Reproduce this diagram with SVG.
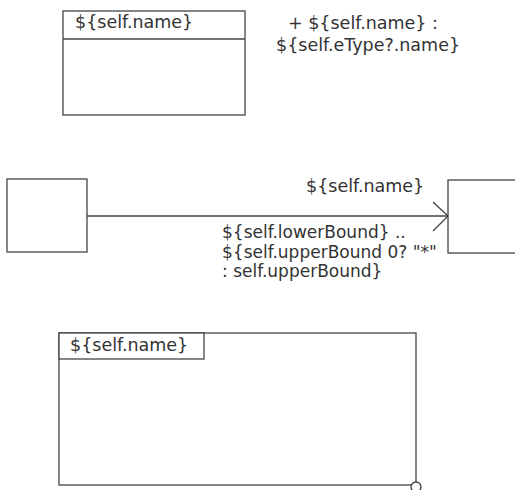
<svg xmlns="http://www.w3.org/2000/svg" width="515" height="490" viewBox="0 0 515 490">
<style>
.box{fill:#fff;stroke:#444;stroke-width:1.3}
.ln{fill:none;stroke:#444;stroke-width:1.3}
text{font-family:"DejaVu Sans","Liberation Sans",sans-serif;font-size:17.5px;fill:#333}
.ml{font-size:17px}
</style>
<rect width="515" height="490" fill="#fff"/>
<g id="class-node">
<rect class="box" x="63" y="11" width="182" height="104"/>
<line class="ln" x1="63" y1="39" x2="245" y2="39"/>
<text x="75" y="28">${self.name}</text>
</g>
<g id="attribute-node">
<text x="288" y="29">+ ${self.name} :</text>
<text x="276" y="51">${self.eType?.name}</text>
</g>
<g id="source-node">
<rect class="box" x="7" y="179" width="80" height="73"/>
</g>
<g id="target-node">
<rect class="box" x="448" y="180" width="80" height="73"/>
</g>
<g id="connectors">
<line class="ln" x1="87" y1="216" x2="448" y2="216"/>
<polyline class="ln" points="433,202 448,216 433,231"/>
<text x="306" y="192">${self.name}</text>
<text class="ml" x="222" y="238">${self.lowerBound} ..</text>
<text class="ml" x="222" y="257.5">${self.upperBound 0? "*"</text>
<text class="ml" x="222" y="277">: self.upperBound}</text>
</g>
<g id="package-node">
<rect class="box" x="59" y="333" width="357" height="152"/>
<rect class="box" x="59" y="333" width="145" height="26"/>
<text x="70" y="351">${self.name}</text>
<circle class="box" cx="416" cy="487" r="5"/>
</g>
</svg>
